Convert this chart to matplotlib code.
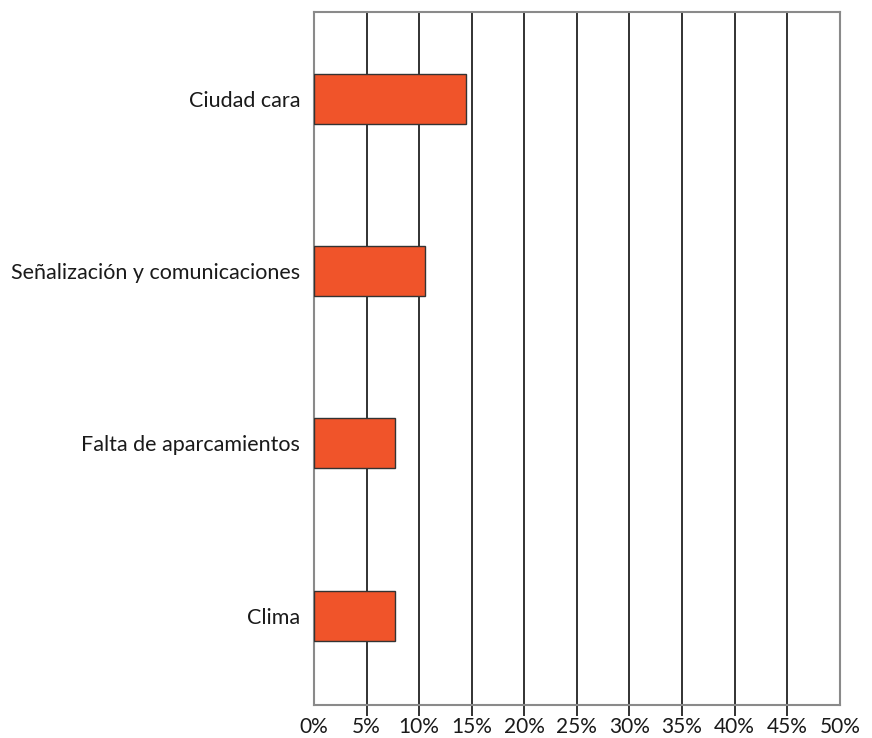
import matplotlib.pyplot as plt

categories = ['Ciudad cara', 'Señalización y comunicaciones', 'Falta de aparcamientos', 'Clima']
values = [14.5, 10.6, 7.7, 7.7]
xticks = [0, 5, 10, 15, 20, 25, 30, 35, 40, 45, 50]
xlabels = [f'{t}%' for t in xticks]

plt.rcParams['font.family'] = ['Lato', 'DejaVu Sans']

fig = plt.figure(figsize=(8.72, 7.38), dpi=100)
ax = fig.add_axes([0.360, 0.0447, 0.603, 0.9390])

y = list(range(len(categories)))
ax.barh(y, values, height=0.29, color='#F0542A', edgecolor='#333333', linewidth=1.0, zorder=3)

ax.set_xlim(0, 50)
ax.set_ylim(3.518, -0.504)
ax.set_yticks(y)
ax.set_yticklabels(categories, fontsize=15.5, color='#1a1a1a')
ax.tick_params(axis='y', length=0, pad=10)

ax.set_xticks(xticks)
ax.set_xticklabels(xlabels, fontsize=15, color='#1a1a1a')
ax.tick_params(axis='x', direction='out', length=8, width=1.3, color='#222222', pad=0.5)
ticks = ax.xaxis.get_major_ticks()
ticks[0].tick1line.set_visible(False)
ticks[-1].tick1line.set_visible(False)

ax.grid(axis='x', color='#222222', linewidth=1.3, zorder=1)
for s in ax.spines.values():
    s.set_color('#8a8a8a')
    s.set_linewidth(1.5)

plt.savefig('out.png', dpi=100)
